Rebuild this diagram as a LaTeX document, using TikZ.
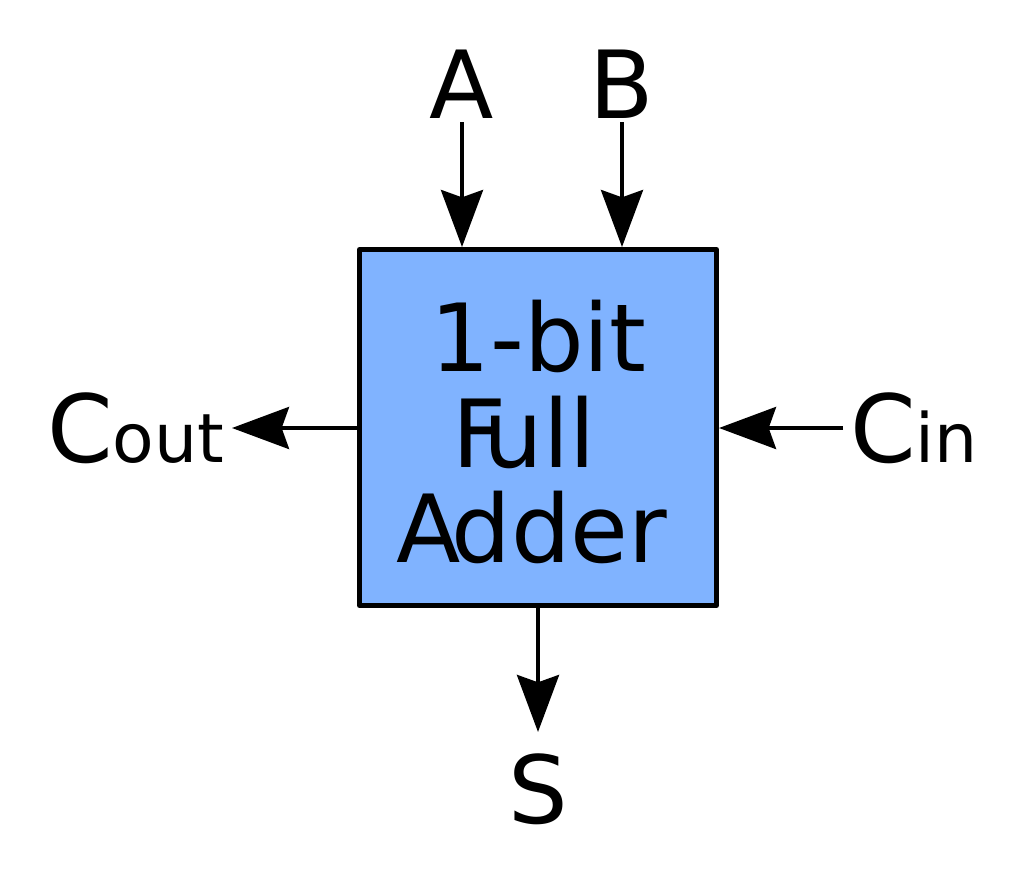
\documentclass[tikz,border=0pt]{standalone}
\usepackage{fontspec}
\setmainfont{DejaVu Sans}
\usetikzlibrary{arrows.meta}
\definecolor{boxblue}{HTML}{80B3FF}
\newcommand{\smallsub}[1]{{\fontsize{51pt}{60pt}\selectfont #1}}
\tikzset{
  big/.style={font={\fontsize{70.5pt}{71.25pt}\selectfont}, inner sep=0pt},
  conn/.style={line width=3pt, -{Stealth[length=42.75pt, width=31.5pt, inset=5.5pt]}},
  adder/.style={draw, line width=3.75pt, fill=boxblue, minimum width=267.75pt, minimum height=267pt, inner sep=0pt, line join=round}
}
\begin{document}
\begin{tikzpicture}[x=0.75pt, y=-0.75pt]
\useasboundingbox (0,0) rectangle (1024,881);
\node[adder] (box) at (538,427.5) {};
\node[big, anchor=base] (t1) at (538.5,371) {1-bit};
\node[big, anchor=base] (t2) at (524,467) {F\kern-0.245em ull};
\node[big, anchor=base] (t3) at (532,562) {A\kern-0.1em dder};
\node[big, anchor=base] (A) at (462,118) {A};
\node[big, anchor=base] (B) at (622,118) {B};
\node[big, anchor=base] (S) at (538,823) {S};
\node[big, anchor=base west] (Cout) at (47,462) {C\smallsub{out}};
\node[big, anchor=base west] (Cin) at (850,462) {C\smallsub{in}};
\coordinate (cinS) at (843,428);
\coordinate (coutE) at (232,428);
\draw[conn, shorten <=3pt] (A.south) -- (A.south |- box.north);
\draw[conn, shorten <=3pt] (B.south) -- (B.south |- box.north);
\draw[conn] (cinS) -- (cinS -| box.east);
\draw[conn] (coutE -| box.west) -- (coutE);
\draw[conn, shorten >=15.75pt] (box.south -| S.north) -- (S.north);
\end{tikzpicture}
\end{document}
